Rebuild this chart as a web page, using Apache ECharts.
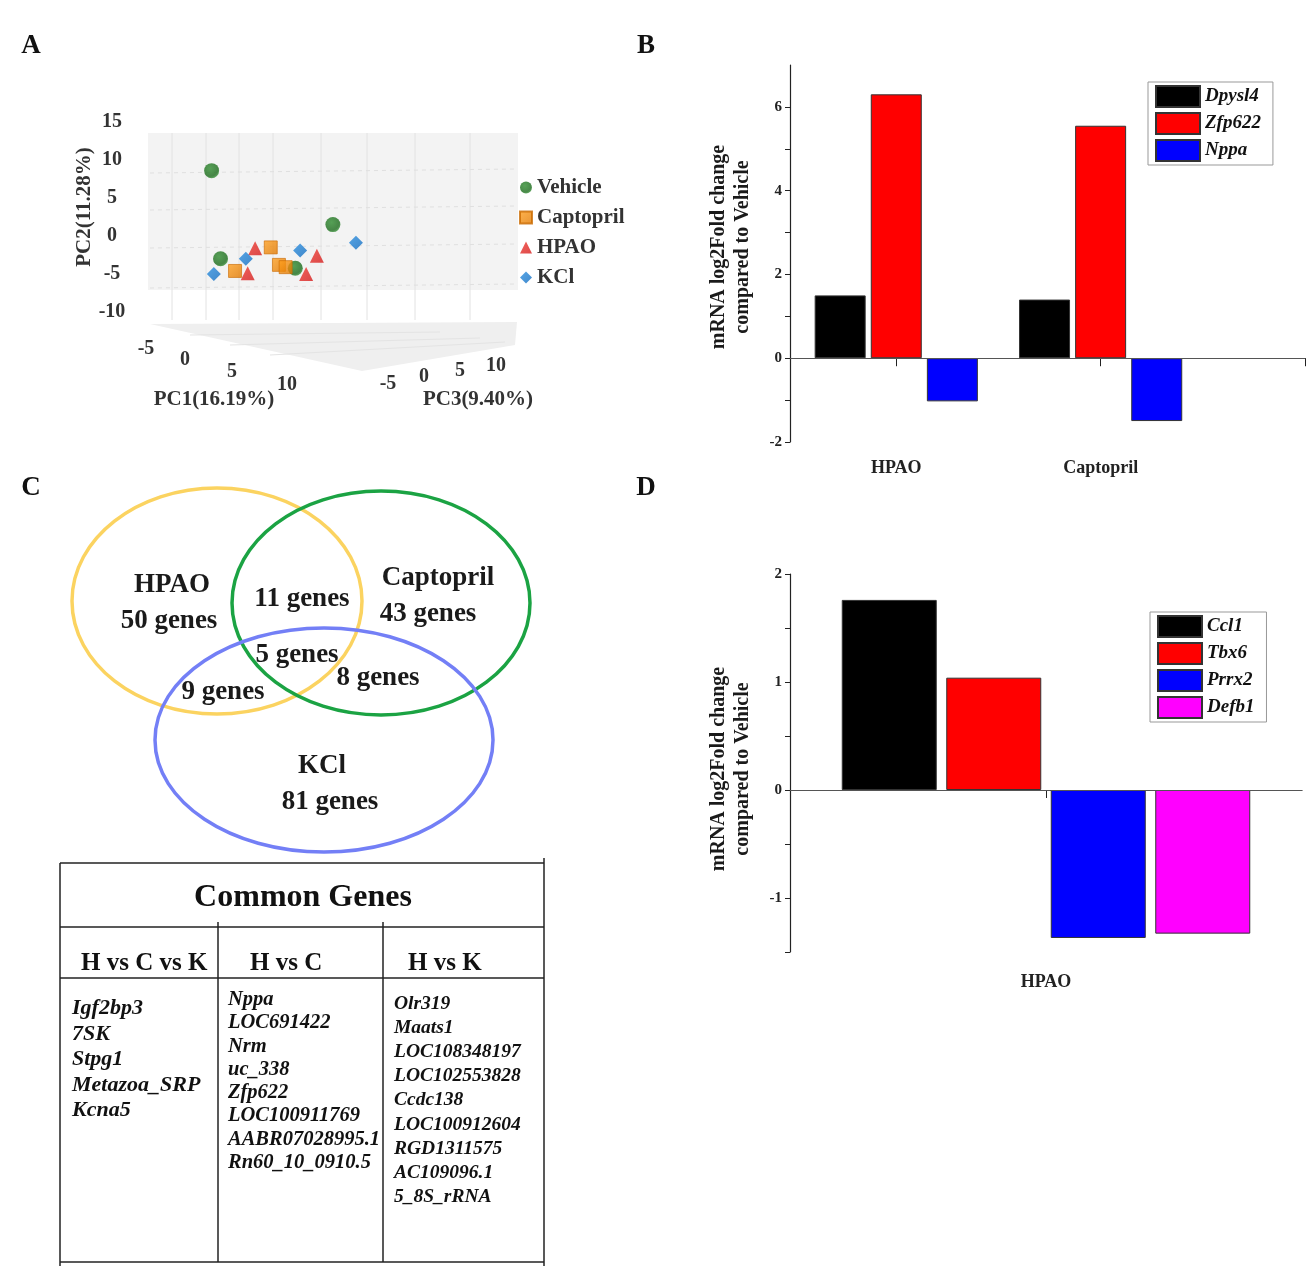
<!DOCTYPE html>
<html><head><meta charset="utf-8">
<script src="https://cdn.jsdelivr.net/npm/echarts@6/dist/echarts.min.js"></script>
<style>html,body{margin:0;padding:0;background:#fff}#c{width:1315px;height:1287px}</style>
</head><body><div id="c"></div>
<script>
const FONT = '"Liberation Serif", "Times New Roman", serif';

// ---------- Panel A: PCA (projected horizontal position, PC2) ----------
const pcaVehicle   = [[17.1, 8.6], [19.5, -3.0], [49.7, 1.5], [39.6, -4.25]];
const pcaCaptopril = [[33.0, -1.5], [23.4, -4.6], [35.2, -3.8], [37.0, -4.1]];
const pcaHPAO      = [[28.8, -1.6], [26.8, -4.9], [45.4, -2.6], [42.5, -5.0]];
const pcaKCl       = [[17.7, -5.0], [26.3, -3.0], [40.9, -1.9], [55.9, -0.9]];
const pcaGroups = ['Vehicle', 'Captopril', 'HPAO', 'KCl'];
const pc1Ticks = [-5, 0, 5, 10];
const pc3Ticks = [-5, 0, 5, 10];
const pc1Name = 'PC1(16.19%)', pc2Name = 'PC2(11.28%)', pc3Name = 'PC3(9.40%)';

// ---------- Panel B ----------
const bCategories = ['HPAO', 'Captopril'];
const bDpysl4 = [1.5, 1.4];
const bZfp622 = [6.3, 5.55];
const bNppa   = [-1.03, -1.5];

// ---------- Panel C ----------
const vennSets = ['HPAO', 'Captopril', 'KCl'];
const vennOnly = [50, 43, 81];
const vennHC = 11, vennHK = 9, vennCK = 8, vennHCK = 5;
const tableTitle = 'Common Genes';
const tableHeaders = ['H vs C vs K', 'H vs C', 'H vs K'];
const genesHCK = ['Igf2bp3', '7SK', 'Stpg1', 'Metazoa_SRP', 'Kcna5'];
const genesHC = ['Nppa', 'LOC691422', 'Nrm', 'uc_338', 'Zfp622', 'LOC100911769', 'AABR07028995.1', 'Rn60_10_0910.5'];
const genesHK = ['Olr319', 'Maats1', 'LOC108348197', 'LOC102553828', 'Ccdc138', 'LOC100912604', 'RGD1311575', 'AC109096.1', '5_8S_rRNA'];

// ---------- Panel D ----------
const dCategories = ['HPAO'];
const dCcl1 = [1.76];
const dTbx6 = [1.04];
const dPrrx2 = [-1.37];
const dDefb1 = [-1.33];

const yTitle = 'mRNA log2Fold change\ncompared to Vehicle';

// ---------- helpers ----------
function txt(text, x, y, opt) {
  opt = opt || {};
  const size = opt.size || 20;
  const font = (opt.italic ? 'italic ' : '') + (opt.weight || 'bold') + ' ' + size + 'px ' + FONT;
  return {
    type: 'text', x: x, y: y, rotation: opt.rotation || 0, silent: true, z: opt.z || 5,
    style: {
      text: text, font: font, fill: opt.color || '#111',
      align: opt.align || 'center', textAlign: opt.align || 'center',
      verticalAlign: opt.va || 'middle', textVerticalAlign: opt.va || 'middle',
      lineHeight: opt.lineHeight
    }
  };
}
function line(x1, y1, x2, y2, color, w, dash) {
  return { type: 'line', silent: true, z: 1,
    shape: { x1: x1, y1: y1, x2: x2, y2: y2 },
    style: { stroke: color, lineWidth: w, lineDash: dash || null } };
}

const graphics = [];
// panel letters
graphics.push(txt('A', 31, 46, { size: 27 }));
graphics.push(txt('B', 646, 46, { size: 27 }));
graphics.push(txt('C', 31, 488, { size: 27 }));
graphics.push(txt('D', 646, 488, { size: 27 }));

// --- Panel A decorations (3D box) ---
graphics.push({ type: 'rect', silent: true, z: 0, shape: { x: 148, y: 133, width: 370, height: 157 }, style: { fill: '#f3f3f3' } });
graphics.push({ type: 'polygon', silent: true, z: 0, shape: { points: [[150, 324], [517, 322], [515, 345], [362, 371]] }, style: { fill: '#efefef' } });
[172, 206, 239, 273, 321, 367, 415, 470].forEach(function (x) {
  graphics.push(line(x, 133, x, 320, '#e2e2e2', 1));
});
[173, 210, 248, 288].forEach(function (y) {
  graphics.push(line(150, y, 518, y - 4, '#e0e0e0', 1, [4, 4]));
});
[[190, 335, 440, 332], [230, 345, 480, 338], [270, 355, 505, 342]].forEach(function (l) {
  graphics.push(line(l[0], l[1], l[2], l[3], '#e4e4e4', 1));
});
pc1Ticks.forEach(function (v) {
  const u = (v - pc1Ticks[0]) / 5;
  graphics.push(txt(String(v), 146 + 35 * u + 4 * u * u, 349 + 10.5 * u + 0.5 * u * u, { size: 20, color: '#333' }));
});
pc3Ticks.forEach(function (v) {
  const u = (v - pc3Ticks[0]) / 5;
  graphics.push(txt(String(v), 388 + 36 * u, 384 - 7 * u + 0.3 * u * u, { size: 20, color: '#333' }));
});
graphics.push(txt(pc1Name, 214, 400, { size: 21, color: '#333' }));
graphics.push(txt(pc3Name, 478, 400, { size: 21, color: '#333' }));
graphics.push(txt(pc2Name, 85, 207, { size: 21, color: '#333', rotation: Math.PI / 2 }));

// --- y titles for B and D ---
graphics.push(txt(yTitle, 731, 247, { size: 20, color: '#1a1a1a', rotation: Math.PI / 2, lineHeight: 24 }));
graphics.push(txt(yTitle, 731, 769, { size: 20, color: '#1a1a1a', rotation: Math.PI / 2, lineHeight: 24 }));

// --- Panel C: Venn ---
graphics.push({ type: 'ellipse', silent: true, z: 1, shape: { cx: 217, cy: 601, rx: 145, ry: 113 }, style: { fill: 'none', stroke: '#fbd360', lineWidth: 3.5 } });
graphics.push({ type: 'ellipse', silent: true, z: 1, shape: { cx: 381, cy: 603, rx: 149, ry: 112 }, style: { fill: 'none', stroke: '#1ba343', lineWidth: 3.5 } });
graphics.push({ type: 'ellipse', silent: true, z: 1, shape: { cx: 324, cy: 740, rx: 169, ry: 112 }, style: { fill: 'none', stroke: '#737ff6', lineWidth: 3.5 } });
const vs = { size: 27, color: '#1a1a1a' };
graphics.push(txt(vennSets[0], 172, 585, vs));
graphics.push(txt(vennOnly[0] + ' genes', 169, 621, vs));
graphics.push(txt(vennSets[1], 438, 578, vs));
graphics.push(txt(vennOnly[1] + ' genes', 428, 614, vs));
graphics.push(txt(vennSets[2], 322, 766, vs));
graphics.push(txt(vennOnly[2] + ' genes', 330, 802, vs));
graphics.push(txt(vennHC + ' genes', 302, 599, vs));
graphics.push(txt(vennHCK + ' genes', 297, 655, vs));
graphics.push(txt(vennCK + ' genes', 378, 678, vs));
graphics.push(txt(vennHK + ' genes', 223, 692, vs));

// --- Panel C: table ---
const tc = '#222';
graphics.push(line(60, 863, 544, 863, tc, 1.5));
graphics.push(line(60, 927, 544, 927, tc, 1.5));
graphics.push(line(60, 978, 544, 978, tc, 1.5));
graphics.push(line(60, 1262, 544, 1262, tc, 1.5));
graphics.push(line(60, 863, 60, 1266, tc, 1.5));
graphics.push(line(544, 858, 544, 1266, tc, 1.5));
graphics.push(line(218, 922, 218, 1262, tc, 1.5));
graphics.push(line(383, 922, 383, 1262, tc, 1.5));
graphics.push(txt(tableTitle, 303, 898, { size: 32 }));
graphics.push(txt(tableHeaders[0], 81, 964, { size: 25, align: 'left' }));
graphics.push(txt(tableHeaders[1], 250, 964, { size: 25, align: 'left' }));
graphics.push(txt(tableHeaders[2], 408, 964, { size: 25, align: 'left' }));
graphics.push(txt(genesHCK.join('\n'), 72, 996, { size: 22, italic: true, align: 'left', va: 'top', lineHeight: 25.5 }));
graphics.push(txt(genesHC.join('\n'), 228, 988, { size: 20.5, italic: true, align: 'left', va: 'top', lineHeight: 23.3 }));
graphics.push(txt(genesHK.join('\n'), 394, 992, { size: 19.5, italic: true, align: 'left', va: 'top', lineHeight: 24.1 }));

// --- gradients for 3D-looking markers ---
const G = echarts.graphic;
const gGreen = new G.RadialGradient(0.4, 0.35, 0.7, [{ offset: 0, color: '#2e8b2e' }, { offset: 0.75, color: '#1b6b1b' }, { offset: 1, color: '#3f9a3f' }]);
const gOrange = new G.LinearGradient(0, 0, 1, 1, [{ offset: 0, color: '#ffa020' }, { offset: 1, color: '#e07800' }]);
const gRed = new G.LinearGradient(0, 0, 1, 1, [{ offset: 0, color: '#f03a30' }, { offset: 1, color: '#d41c1c' }]);
const gBlue = new G.LinearGradient(0, 0, 1, 1, [{ offset: 0, color: '#2b8fe0' }, { offset: 1, color: '#126cc0' }]);

const barBorder = { borderColor: '#333', borderWidth: 1 };
const zeroLine = { symbol: 'none', silent: true, label: { show: false },
  lineStyle: { color: '#555', width: 1.2, type: 'solid' }, data: [{ yAxis: 0 }] };
const axisText = { fontFamily: FONT, fontWeight: 'bold', color: '#222' };

const option = {
  animation: false,
  backgroundColor: '#fff',
  textStyle: { fontFamily: FONT },
  grid: [
    { left: 148, top: 122, width: 372, height: 190, outerBoundsMode: 'none' },
    { left: 790, top: 65, width: 515, height: 377, outerBoundsMode: 'none' },
    { left: 790, top: 574, width: 512, height: 378, outerBoundsMode: 'none' }
  ],
  xAxis: [
    { gridIndex: 0, type: 'value', min: 0, max: 100, show: false },
    { gridIndex: 1, type: 'value', min: 0.48, max: 3.0,
      axisLine: { show: true, lineStyle: { color: '#222', width: 1.2 } },
      axisTick: { show: true, customValues: [1, 2, 3], length: 8, lineStyle: { color: '#222' } },
      axisLabel: Object.assign({ customValues: [1, 2], fontSize: 18, margin: 17,
        formatter: function (v) { return bCategories[Math.round(v) - 1] || ''; } }, axisText),
      splitLine: { show: false } },
    { gridIndex: 2, type: 'category', data: dCategories,
      axisLine: { show: true, lineStyle: { color: '#222', width: 1.2 } },
      axisTick: { show: true, alignWithLabel: true, length: 8, lineStyle: { color: '#222' } },
      axisLabel: Object.assign({ fontSize: 18, margin: 21 }, axisText) }
  ],
  yAxis: [
    { gridIndex: 0, type: 'value', min: -10, max: 15, interval: 5,
      axisLine: { show: false }, axisTick: { show: false }, splitLine: { show: false },
      axisLabel: { fontFamily: FONT, fontWeight: 'bold', fontSize: 20, color: '#333', align: 'center', margin: 36 } },
    { gridIndex: 1, type: 'value', min: -2, max: 7, interval: 1,
      axisLine: { show: true, lineStyle: { color: '#222', width: 1.2 } },
      axisTick: { show: true, length: 5, lineStyle: { color: '#222' } },
      splitLine: { show: false },
      axisLabel: Object.assign({ fontSize: 15, margin: 8, showMaxLabel: false,
        formatter: function (v) { return (v % 2 === 0 && v < 7) ? String(v) : ''; } }, axisText) },
    { gridIndex: 2, type: 'value', min: -1.5, max: 2, interval: 0.5,
      axisLine: { show: true, lineStyle: { color: '#222', width: 1.2 } },
      axisTick: { show: true, length: 5, lineStyle: { color: '#222' } },
      splitLine: { show: false },
      axisLabel: Object.assign({ fontSize: 15, margin: 8,
        formatter: function (v) { return Number.isInteger(v) ? String(v) : ''; } }, axisText) }
  ],
  legend: [
    { data: pcaGroups, orient: 'vertical', left: 514, top: 172, itemWidth: 12, itemHeight: 12, itemGap: 9,
      textStyle: { fontFamily: FONT, fontWeight: 'bold', fontSize: 21, color: '#333' } },
    { data: ['Dpysl4', 'Zfp622', 'Nppa'], orient: 'vertical', left: 1148, top: 82,
      itemWidth: 44, itemHeight: 21, itemGap: 4, padding: [3, 12, 3, 7], icon: 'rect',
      borderColor: '#999', borderWidth: 1,
      textStyle: { fontFamily: FONT, fontWeight: 'bold', fontStyle: 'italic', fontSize: 19, color: '#111' } },
    { data: ['Ccl1', 'Tbx6', 'Prrx2', 'Defb1'], orient: 'vertical', left: 1150, top: 612,
      itemWidth: 44, itemHeight: 21, itemGap: 4, padding: [3, 12, 3, 7], icon: 'rect',
      borderColor: '#999', borderWidth: 1,
      textStyle: { fontFamily: FONT, fontWeight: 'bold', fontStyle: 'italic', fontSize: 19, color: '#111' } }
  ],
  series: [
    { name: 'Vehicle', type: 'scatter', xAxisIndex: 0, yAxisIndex: 0, data: pcaVehicle,
      symbol: 'circle', symbolSize: 15, itemStyle: { color: gGreen } },
    { name: 'Captopril', type: 'scatter', xAxisIndex: 0, yAxisIndex: 0, data: pcaCaptopril,
      symbol: 'rect', symbolSize: 13, itemStyle: { color: gOrange, borderColor: '#c96a00', borderWidth: 0.8 } },
    { name: 'HPAO', type: 'scatter', xAxisIndex: 0, yAxisIndex: 0, data: pcaHPAO,
      symbol: 'triangle', symbolSize: 14, itemStyle: { color: gRed } },
    { name: 'KCl', type: 'scatter', xAxisIndex: 0, yAxisIndex: 0, data: pcaKCl,
      symbol: 'diamond', symbolSize: 14, itemStyle: { color: gBlue } },

    { name: 'Dpysl4', type: 'bar', xAxisIndex: 1, yAxisIndex: 1, barWidth: 51, barGap: '10%',
      data: bDpysl4.map(function (v, i) { return [i + 1, v]; }),
      itemStyle: Object.assign({ color: '#000000' }, barBorder), markLine: zeroLine },
    { name: 'Zfp622', type: 'bar', xAxisIndex: 1, yAxisIndex: 1, barWidth: 51, barGap: '10%',
      data: bZfp622.map(function (v, i) { return [i + 1, v]; }),
      itemStyle: Object.assign({ color: '#ff0000' }, barBorder) },
    { name: 'Nppa', type: 'bar', xAxisIndex: 1, yAxisIndex: 1, barWidth: 51, barGap: '10%',
      data: bNppa.map(function (v, i) { return [i + 1, v]; }),
      itemStyle: Object.assign({ color: '#0000ff' }, barBorder) },

    { name: 'Ccl1', type: 'bar', xAxisIndex: 2, yAxisIndex: 2, barWidth: 95, barGap: '10%', data: dCcl1,
      itemStyle: Object.assign({ color: '#000000' }, barBorder), markLine: zeroLine },
    { name: 'Tbx6', type: 'bar', xAxisIndex: 2, yAxisIndex: 2, barWidth: 95, barGap: '10%', data: dTbx6,
      itemStyle: Object.assign({ color: '#ff0000' }, barBorder) },
    { name: 'Prrx2', type: 'bar', xAxisIndex: 2, yAxisIndex: 2, barWidth: 95, barGap: '10%', data: dPrrx2,
      itemStyle: Object.assign({ color: '#0000ff' }, barBorder) },
    { name: 'Defb1', type: 'bar', xAxisIndex: 2, yAxisIndex: 2, barWidth: 95, barGap: '10%', data: dDefb1,
      itemStyle: Object.assign({ color: '#ff00ff' }, barBorder) }
  ],
  graphic: graphics
};

const chart = echarts.init(document.getElementById('c'), null, { renderer: 'canvas' });
chart.setOption(option);
</script>
</body></html>
